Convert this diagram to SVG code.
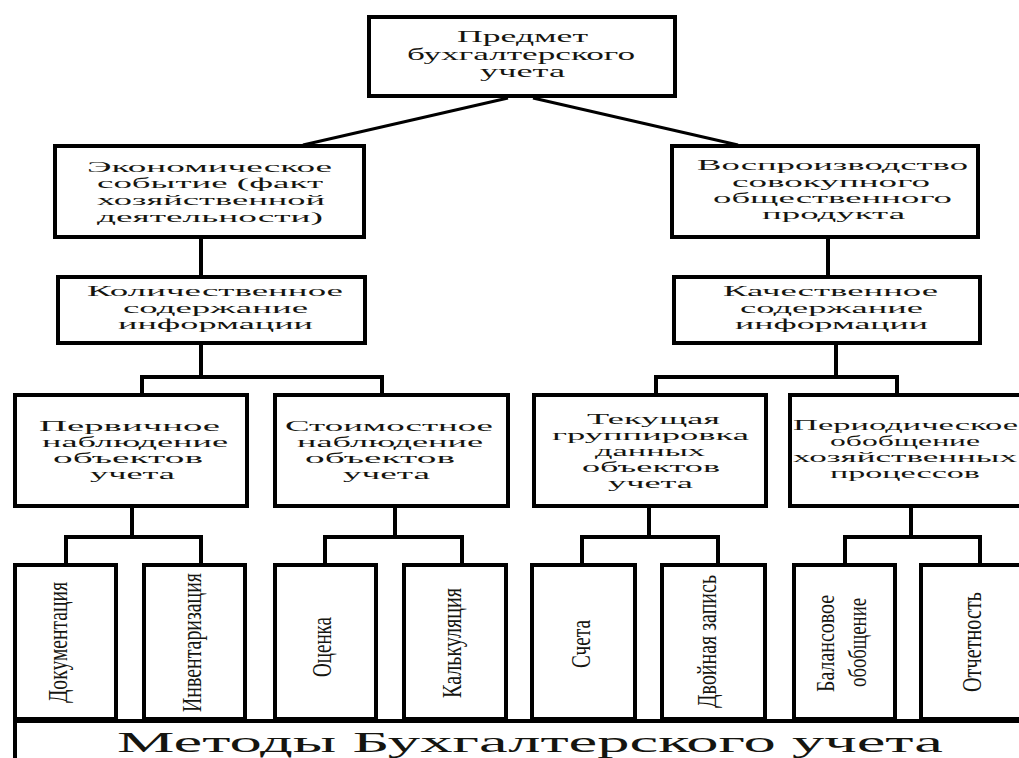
<svg xmlns="http://www.w3.org/2000/svg" width="1019" height="758" viewBox="0 0 1019 758">
<style>
.box{fill:#fff;stroke:#000;stroke-width:4}
.ln{fill:none;stroke:#000;stroke-width:4;stroke-linecap:square}
.dg{fill:none;stroke:#000;stroke-width:3}
.t{font-family:"Liberation Serif","Times New Roman",serif;fill:#151510}
.t20{font-size:16px}
.t18{font-size:15px}
.t17{font-size:14.5px}
.v{font-size:28px}
.big{font-size:30px}
</style>
<rect width="1019" height="758" fill="#fff"/>
<g id="connectors">
<line class="dg" x1="508" y1="98" x2="303" y2="145"/>
<line class="dg" x1="533" y1="98" x2="738" y2="145"/>
<path class="ln" d="M201 239V275M201 345V377M142 377H382M142 377V393M382 377V393"/>
<path class="ln" d="M828 239V275M836 344V377M656 377H897M656 377V393M897 377V393"/>
<path class="ln" d="M132 508V537M66 537H201M66 537V563M201 537V563"/>
<path class="ln" d="M395 508V537M325 537H462M325 537V563M462 537V563"/>
<path class="ln" d="M649 508V537M582 537H718M582 537V563M718 537V563"/>
<path class="ln" d="M911 508V537M845 537H980M845 537V563M980 537V563"/>
</g>
<g id="n-top">
<rect class="box" x="369" y="17" width="306" height="79"/>
<text class="t t20" x="457" y="42" textLength="131" lengthAdjust="spacingAndGlyphs">Предмет</text>
<text class="t t20" x="407" y="60" textLength="228" lengthAdjust="spacingAndGlyphs">бухгалтерского</text>
<text class="t t20" x="480" y="77" textLength="85" lengthAdjust="spacingAndGlyphs">учета</text>
</g>
<g id="n-econ">
<rect class="box" x="55" y="146" width="309" height="91"/>
<text class="t t18" x="87" y="172" textLength="245" lengthAdjust="spacingAndGlyphs">Экономическое</text>
<text class="t t18" x="97" y="188" textLength="226" lengthAdjust="spacingAndGlyphs">событие (факт</text>
<text class="t t18" x="97" y="205" textLength="228" lengthAdjust="spacingAndGlyphs">хозяйственной</text>
<text class="t t18" x="97" y="222" textLength="226" lengthAdjust="spacingAndGlyphs">деятельности)</text>
</g>
<g id="n-repro">
<rect class="box" x="672" y="146" width="306" height="91"/>
<text class="t t18" x="697" y="170" textLength="271" lengthAdjust="spacingAndGlyphs">Воспроизводство</text>
<text class="t t18" x="732" y="187" textLength="198" lengthAdjust="spacingAndGlyphs">совокупного</text>
<text class="t t18" x="713" y="203" textLength="239" lengthAdjust="spacingAndGlyphs">общественного</text>
<text class="t t18" x="762" y="219" textLength="143" lengthAdjust="spacingAndGlyphs">продукта</text>
</g>
<g id="n-quant">
<rect class="box" x="58" y="277" width="307" height="66"/>
<text class="t t18" x="87" y="296" textLength="256" lengthAdjust="spacingAndGlyphs">Количественное</text>
<text class="t t18" x="123" y="313" textLength="185" lengthAdjust="spacingAndGlyphs">содержание</text>
<text class="t t18" x="118" y="329" textLength="195" lengthAdjust="spacingAndGlyphs">информации</text>
</g>
<g id="n-qual">
<rect class="box" x="674" y="277" width="306" height="66"/>
<text class="t t18" x="723" y="296" textLength="215" lengthAdjust="spacingAndGlyphs">Качественное</text>
<text class="t t18" x="740" y="313" textLength="183" lengthAdjust="spacingAndGlyphs">содержание</text>
<text class="t t18" x="735" y="329" textLength="193" lengthAdjust="spacingAndGlyphs">информации</text>
</g>
<g id="n-primary">
<rect class="box" x="15" y="395" width="232" height="111"/>
<text class="t t17" x="39" y="431" textLength="181" lengthAdjust="spacingAndGlyphs">Первичное</text>
<text class="t t17" x="42" y="447" textLength="186" lengthAdjust="spacingAndGlyphs">наблюдение</text>
<text class="t t17" x="53" y="463" textLength="150" lengthAdjust="spacingAndGlyphs">объектов</text>
<text class="t t17" x="90" y="479" textLength="85" lengthAdjust="spacingAndGlyphs">учета</text>
</g>
<g id="n-cost">
<rect class="box" x="275" y="395" width="233" height="111"/>
<text class="t t17" x="285" y="431" textLength="208" lengthAdjust="spacingAndGlyphs">Стоимостное</text>
<text class="t t17" x="297" y="447" textLength="186" lengthAdjust="spacingAndGlyphs">наблюдение</text>
<text class="t t17" x="305" y="463" textLength="150" lengthAdjust="spacingAndGlyphs">объектов</text>
<text class="t t17" x="343" y="479" textLength="87" lengthAdjust="spacingAndGlyphs">учета</text>
</g>
<g id="n-current">
<rect class="box" x="534" y="395" width="232" height="111"/>
<text class="t t17" x="587" y="424" textLength="133" lengthAdjust="spacingAndGlyphs">Текущая</text>
<text class="t t17" x="552" y="440" textLength="197" lengthAdjust="spacingAndGlyphs">группировка</text>
<text class="t t17" x="595" y="456" textLength="110" lengthAdjust="spacingAndGlyphs">данных</text>
<text class="t t17" x="582" y="472" textLength="138" lengthAdjust="spacingAndGlyphs">объектов</text>
<text class="t t17" x="608" y="488" textLength="85" lengthAdjust="spacingAndGlyphs">учета</text>
</g>
<g id="n-periodic">
<rect class="box" x="790" y="395" width="240" height="111"/>
<text class="t t17" x="793" y="430" textLength="225" lengthAdjust="spacingAndGlyphs">Периодическое</text>
<text class="t t17" x="830" y="446" textLength="150" lengthAdjust="spacingAndGlyphs">обобщение</text>
<text class="t t17" x="793" y="462" textLength="224" lengthAdjust="spacingAndGlyphs">хозяйственных</text>
<text class="t t17" x="830" y="478" textLength="150" lengthAdjust="spacingAndGlyphs">процессов</text>
</g>
<g id="n-doc">
<rect class="box" x="15" y="565" width="101" height="154"/>
<text class="t v" transform="translate(67 642.5) rotate(-90)" x="-60.5" y="0" textLength="121" lengthAdjust="spacingAndGlyphs">Документация</text>
</g>
<g id="n-inv">
<rect class="box" x="144" y="565" width="101" height="154"/>
<text class="t v" transform="translate(201 642.5) rotate(-90)" x="-69.5" y="0" textLength="139" lengthAdjust="spacingAndGlyphs">Инвентаризация</text>
</g>
<g id="n-eval">
<rect class="box" x="275" y="565" width="101" height="154"/>
<text class="t v" transform="translate(331 647) rotate(-90)" x="-30" y="0" textLength="60" lengthAdjust="spacingAndGlyphs">Оценка</text>
</g>
<g id="n-calc">
<rect class="box" x="404" y="565" width="102" height="154"/>
<text class="t v" transform="translate(461 643) rotate(-90)" x="-55" y="0" textLength="110" lengthAdjust="spacingAndGlyphs">Калькуляция</text>
</g>
<g id="n-acc">
<rect class="box" x="532" y="565" width="103" height="154"/>
<text class="t v" transform="translate(590 644) rotate(-90)" x="-24" y="0" textLength="48" lengthAdjust="spacingAndGlyphs">Счета</text>
</g>
<g id="n-double">
<rect class="box" x="662" y="565" width="103" height="154"/>
<text class="t v" transform="translate(716 641.5) rotate(-90)" x="-66.5" y="0" textLength="133" lengthAdjust="spacingAndGlyphs">Двойная запись</text>
</g>
<g id="n-balance">
<rect class="box" x="794" y="565" width="101" height="154"/>
<text class="t v" style="font-size:26px" transform="translate(834 643.5) rotate(-90)" x="-48.5" y="0" textLength="97" lengthAdjust="spacingAndGlyphs">Балансовое</text>
<text class="t v" style="font-size:26px" transform="translate(866 642.5) rotate(-90)" x="-44.5" y="0" textLength="89" lengthAdjust="spacingAndGlyphs">обобщение</text>
</g>
<g id="n-report">
<rect class="box" x="921" y="565" width="109" height="154"/>
<text class="t v" transform="translate(981 642) rotate(-90)" x="-50" y="0" textLength="100" lengthAdjust="spacingAndGlyphs">Отчетность</text>
</g>
<g id="n-methods">
<path class="ln" d="M15 721H1019M15 721V760"/>
<text class="t big" x="117" y="752" textLength="826" lengthAdjust="spacingAndGlyphs">Методы Бухгалтерского учета</text>
</g>
</svg>
